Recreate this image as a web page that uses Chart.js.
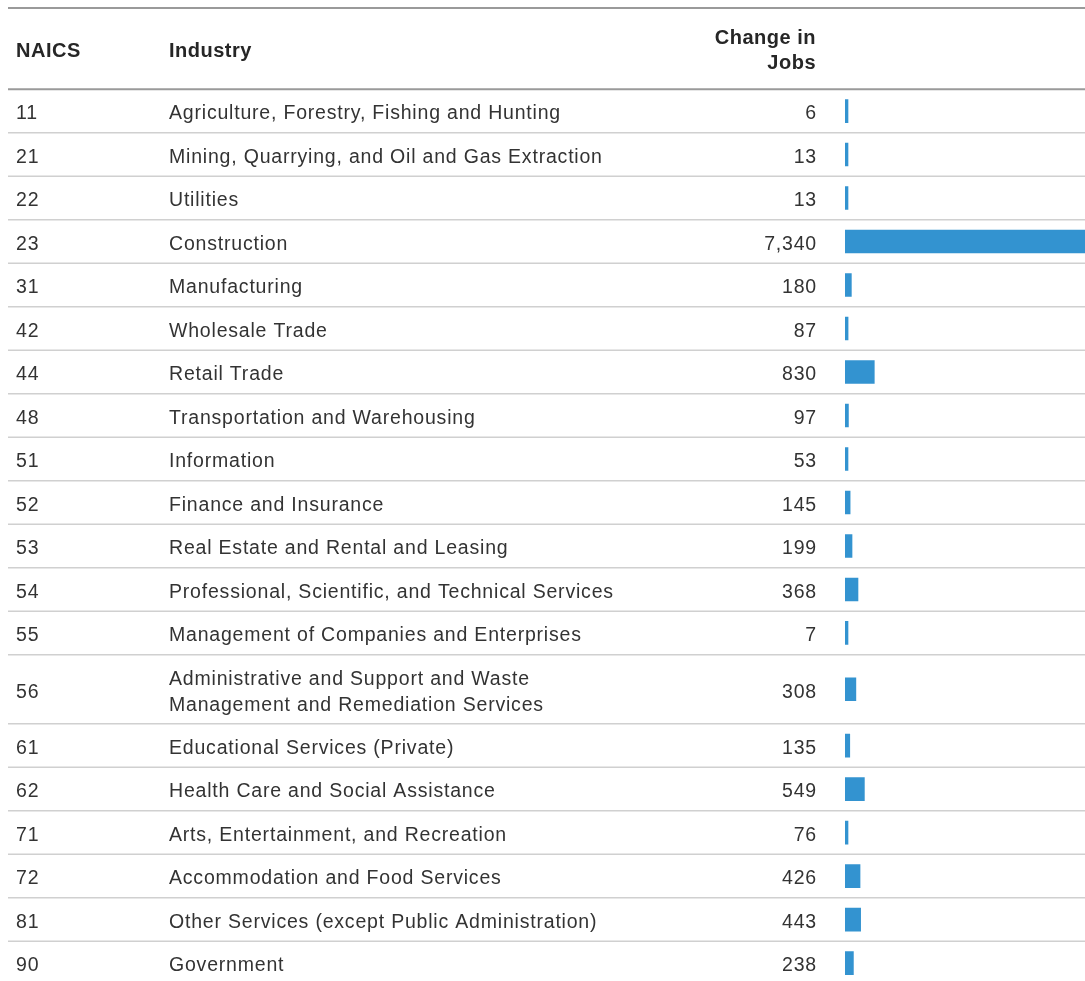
<!DOCTYPE html>
<html>
<head>
<meta charset="utf-8">
<script src="https://cdn.jsdelivr.net/npm/chart.js"></script>
<style>
  html, body { margin: 0; padding: 0; background: #fff; overflow: hidden; }
  #wrap { position: relative; width: 1085px; height: 990px; }
</style>
</head>
<body>
<div id="wrap"><canvas id="jobsChart"></canvas></div>
<script>
// table data
var naicsCodes = ['11', '21', '22', '23', '31', '42', '44', '48', '51', '52',
                  '53', '54', '55', '56', '61', '62', '71', '72', '81', '90'];
var industries = [
    'Agriculture, Forestry, Fishing and Hunting',
    'Mining, Quarrying, and Oil and Gas Extraction',
    'Utilities',
    'Construction',
    'Manufacturing',
    'Wholesale Trade',
    'Retail Trade',
    'Transportation and Warehousing',
    'Information',
    'Finance and Insurance',
    'Real Estate and Rental and Leasing',
    'Professional, Scientific, and Technical Services',
    'Management of Companies and Enterprises',
    ['Administrative and Support and Waste', 'Management and Remediation Services'],
    'Educational Services (Private)',
    'Health Care and Social Assistance',
    'Arts, Entertainment, and Recreation',
    'Accommodation and Food Services',
    'Other Services (except Public Administration)',
    'Government'
];
var jobChange = [6, 13, 13, 7340, 180, 87, 830, 97, 53, 145,
                 199, 368, 7, 308, 135, 549, 76, 426, 443, 238];
var headers = ['NAICS', 'Industry', ['Change in', 'Jobs']];

// row heights in row units (wrapped rows are taller)
var rowSpan = industries.map(function (name) { return Array.isArray(name) ? 1.59 : 1; });
var rowEdges = [0];
rowSpan.forEach(function (s, i) { rowEdges.push(rowEdges[i] + s); });
var rowMid = rowSpan.map(function (s, i) { return rowEdges[i] + s / 2; });

var textColor = '#333333';
var barColor = '#3393d0';

var tablePlugin = {
    id: 'tableText',
    beforeDatasetsDraw: function (chart) {
        var ctx = chart.ctx;
        var y = chart.scales.y;
        ctx.save();
        // top rule and header rule
        ctx.strokeStyle = '#9a9a9a';
        ctx.lineWidth = 2;
        ctx.beginPath();
        ctx.moveTo(8, 8); ctx.lineTo(chart.width, 8);
        ctx.moveTo(8, y.getPixelForValue(0)); ctx.lineTo(chart.width, y.getPixelForValue(0));
        ctx.stroke();
        // row rules
        ctx.strokeStyle = '#d0d0d0';
        ctx.lineWidth = 1.5;
        ctx.beginPath();
        for (var i = 1; i < rowEdges.length - 1; i++) {
            var py = y.getPixelForValue(rowEdges[i]);
            ctx.moveTo(8, py); ctx.lineTo(chart.width, py);
        }
        ctx.stroke();
        ctx.restore();
    },
    afterDraw: function (chart) {
        var ctx = chart.ctx;
        var y = chart.scales.y;
        ctx.save();
        ctx.textBaseline = 'middle';

        // header
        ctx.fillStyle = '#262626';
        ctx.font = 'bold 20px "Liberation Sans", Arial, sans-serif';
        ctx.letterSpacing = '0.5px';
        ctx.textAlign = 'left';
        ctx.fillText(headers[0], 16, 51);
        ctx.fillText(headers[1], 169, 51);
        ctx.textAlign = 'right';
        ctx.fillText(headers[2][0], 816, 38);
        ctx.fillText(headers[2][1], 816, 63);

        // body rows
        ctx.fillStyle = textColor;
        ctx.font = '19.5px "Liberation Sans", Arial, sans-serif';
        ctx.letterSpacing = '0.8px';
        for (var i = 0; i < naicsCodes.length; i++) {
            var cy = y.getPixelForValue(rowMid[i]) + 3;
            ctx.textAlign = 'left';
            ctx.fillText(naicsCodes[i], 16, cy);
            if (Array.isArray(industries[i])) {
                ctx.fillText(industries[i][0], 169, cy - 13);
                ctx.fillText(industries[i][1], 169, cy + 13);
            } else {
                ctx.fillText(industries[i], 169, cy);
            }
            ctx.textAlign = 'right';
            ctx.fillText(jobChange[i].toLocaleString('en-US'), 817, cy);
        }
        ctx.restore();
    }
};

var jobsChart = new Chart(document.getElementById('jobsChart'), {
    type: 'bar',
    data: {
        datasets: [{
            label: 'Change in Jobs',
            data: jobChange.map(function (v, i) { return { x: v, y: rowMid[i] }; }),
            backgroundColor: barColor,
            borderWidth: 0,
            barThickness: 23,
            minBarLength: 3
        }]
    },
    options: {
        indexAxis: 'y',
        responsive: true,
        maintainAspectRatio: false,
        animation: false,
        layout: { padding: { left: 845, right: 0, top: 89.3, bottom: 5.2 } },
        scales: {
            x: { type: 'linear', min: 0, max: 6800, offset: false, display: false },
            y: { type: 'linear', min: 0, max: rowEdges[rowEdges.length - 1], reverse: true, offset: false, display: false }
        },
        plugins: {
            legend: { display: false },
            tooltip: { enabled: false }
        }
    },
    plugins: [tablePlugin]
});
</script>
</body>
</html>
